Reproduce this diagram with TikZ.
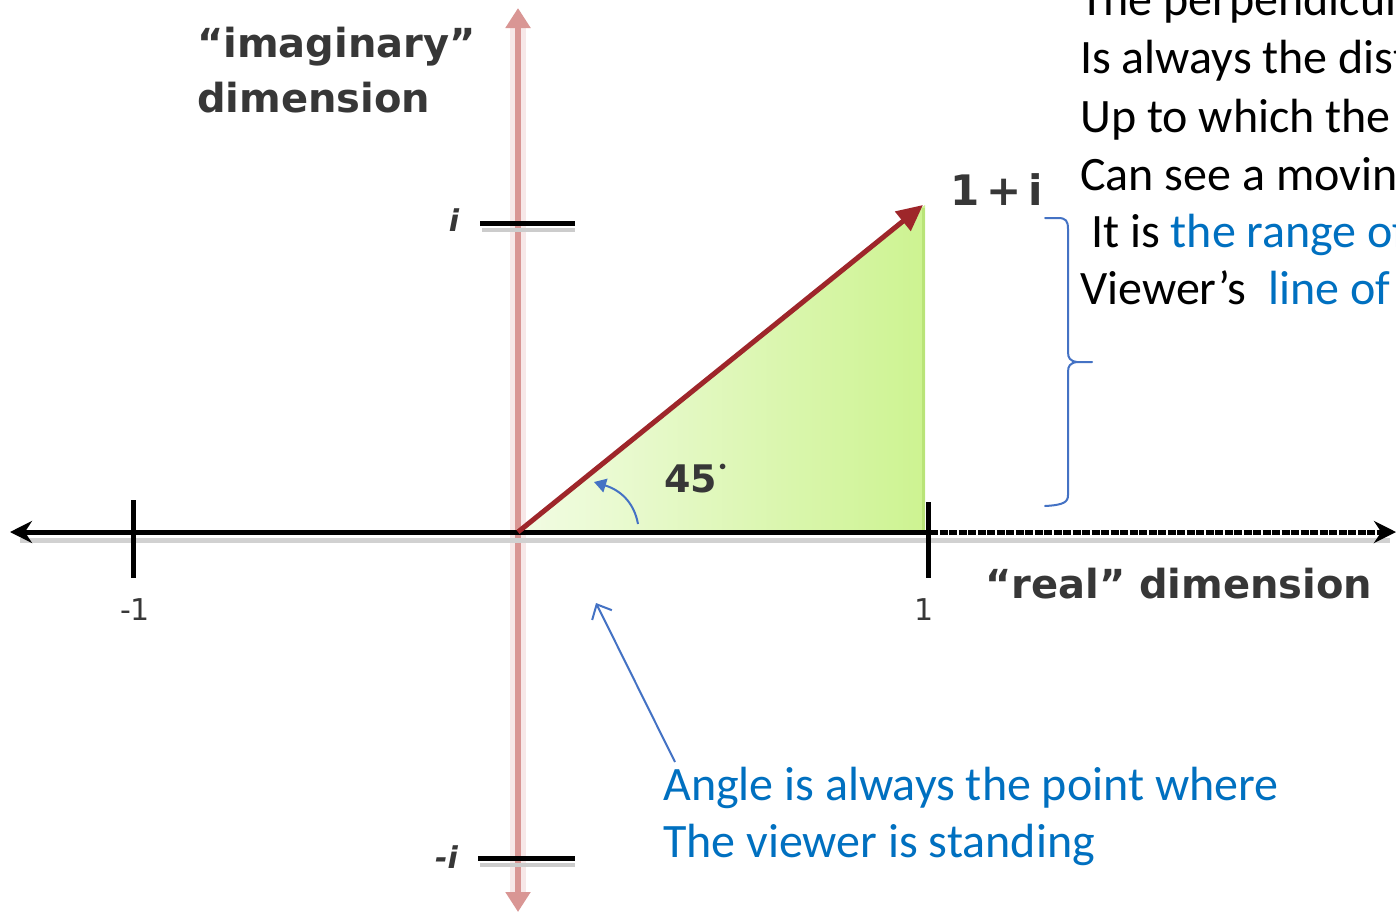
\documentclass[tikz,border=0pt]{standalone}
\usepackage{fontspec}
\setmainfont{Carlito}
\newfontfamily\lblfont{DejaVu Sans}
\usetikzlibrary{arrows.meta}
\definecolor{txtblue}{RGB}{0,112,192}
\definecolor{lineblue}{RGB}{68,114,196}
\definecolor{pinkaxis}{RGB}{217,150,148}
\definecolor{vecred}{RGB}{158,38,42}
\definecolor{greenR}{RGB}{205,243,145}
\definecolor{greenL}{RGB}{242,252,228}
\definecolor{greenEdge}{RGB}{185,228,120}
\definecolor{lblgray}{RGB}{55,55,55}
\tikzset{
  maintext/.style={anchor=base west,inner sep=0,font=\fontsize{48}{57.7}\selectfont},
  axlabel/.style={inner sep=0,text=lblgray,font=\lblfont\bfseries\fontsize{40}{55}\selectfont},
  smalllabel/.style={inner sep=0,text=lblgray,font=\lblfont\fontsize{30}{36}\selectfont},
  tickline/.style={line width=5pt,black},
  bluethin/.style={line width=2pt,lineblue},
}
\begin{document}
\begin{tikzpicture}[x=1pt,y=-1pt]
\useasboundingbox (0,0) rectangle (1396,916);
\clip (0,0) rectangle (1396,916);
\fill[white] (0,0) rectangle (1396,916);

% key points
\coordinate (O) at (518,532);
\coordinate (L) at (10,532);
\coordinate (R) at (1396,532);
\coordinate (R1) at (930,532);
\coordinate (T) at (518,8);
\coordinate (B) at (518,912);
\coordinate (P) at (923,205);
\coordinate (Pb) at (925,532);

% green triangle
\shade[left color=greenL,right color=greenR] (O) -- (925,205) -- (Pb) -- cycle;
\draw[greenEdge,line width=3pt] (923,208) -- (923,530);

% vertical axis
\draw[pinkaxis!22,line width=16pt] (518,20) -- (518,900);
\draw[pinkaxis,line width=6pt,{Triangle[length=20pt,width=24pt]}-{Triangle[length=20pt,width=24pt]}] (B) -- (T);

% shadow of horizontal axis
\draw[black!18,line width=5pt] (20,540) -- (1390,540);

% horizontal axis
\draw[tickline,{Stealth[length=22pt,width=22pt]}-] (L) -- (R1);
\draw[tickline,dash pattern=on 8pt off 1.5pt,-{Stealth[length=22pt,width=22pt]}] (R1) -- (R);

% ticks
\coordinate (m1t) at (133,500); \coordinate (m1b) at (133,578);
\coordinate (p1t) at (928,502); \coordinate (p1b) at (928,578);
\coordinate (it1) at (480,223); \coordinate (it2) at (575,223);
\coordinate (mi1) at (478,858); \coordinate (mi2) at (575,858);
\draw[black!20,line width=4pt] (482,230) -- (575,230);
\draw[black!20,line width=4pt] (480,865) -- (575,865);
\draw[tickline] (m1t) -- (m1b);
\draw[tickline] (p1t) -- (p1b);
\draw[tickline] (it1) -- (it2);
\draw[tickline] (mi1) -- (mi2);

% vector 1+i
\draw[vecred,line width=5pt,-{Triangle[length=26pt,width=24pt]}] (O) -- (P);

% angle arc
\coordinate (a1) at (638,524);
\coordinate (a2) at (594,482);
\draw[bluethin,-{Triangle[length=12pt,width=14pt]}] (a1) .. controls (634,502) and (620,490) .. (a2);

% labels
\node[axlabel,anchor=base west] (imag1) at (197,57) {“imaginary”};
\node[axlabel,anchor=base west] (imag2) at (197,112) {dimension};
\node[axlabel,anchor=base west] (real) at (985,598) {“real” dimension};
\node[smalllabel,anchor=base] (lm1) at (135,620) {-1};
\node[smalllabel,anchor=base] (lp1) at (924,620) {1};
\node[smalllabel,anchor=base,font=\lblfont\bfseries\itshape\fontsize{30}{36}\selectfont] (li) at (454,231) {i};
\node[smalllabel,anchor=base east,font=\lblfont\bfseries\itshape\fontsize{30}{36}\selectfont] (lmi) at (458,868) {-i};
\node[axlabel,anchor=base west,font=\lblfont\bfseries\fontsize{42}{50}\selectfont] (lpi) at (950,205) {1\,+\,i};
\node[axlabel,anchor=base west,font=\lblfont\bfseries\fontsize{38}{46}\selectfont] (l45) at (664,492) {45\kern2pt\raisebox{22pt}{\fontsize{14}{14}\selectfont$\bullet$}};

% brace
\draw[bluethin,line cap=round]
  (1045,218) -- (1058,218) .. controls (1066,218) and (1068,221) .. (1068,229)
  -- (1068,352) .. controls (1068,358) and (1070,361) .. (1077,362) -- (1092,362);
\draw[bluethin,line cap=round]
  (1077,362) .. controls (1070,363) and (1068,366) .. (1068,372)
  -- (1068,495) .. controls (1068,502) and (1064,505) .. (1045,506);

% right text (cut at the right edge as in the reference)
\node[maintext] (r1) at (1080,15) {The perpendicul};
\node[maintext] (r2) at (1080,73) {Is always the dist};
\node[maintext] (r3) at (1080,132) {Up to which the};
\node[maintext] (r4) at (1080,190) {Can see a movin};
\node[maintext] (r5) at (1080,247) {\ It is \textcolor{txtblue}{the range of}};
\node[maintext] (r6) at (1080,304) {Viewer’s \ \textcolor{txtblue}{line of}};

% bottom annotation
\node[maintext,text=txtblue] (b1) at (663,800) {Angle is always the point where};
\node[maintext,text=txtblue] (b2) at (663,857) {The viewer is standing};
\coordinate (annS) at (675,762);
\coordinate (annE) at (596,603);
\draw[bluethin,-{Straight Barb[length=12pt,width=22pt]}] (annS) -- (annE);
\end{tikzpicture}
\end{document}
